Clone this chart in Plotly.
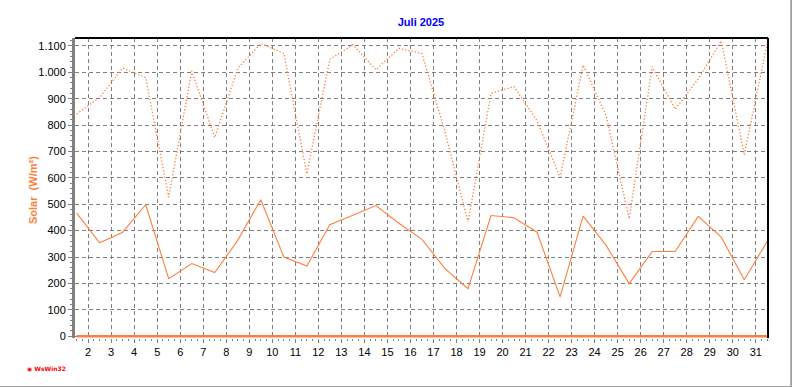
import plotly.graph_objects as go

# Data (July 2025 daily solar radiation, W/m²)
days = list(range(1, 32))
solar_max = [842, 905, 1016, 980, 527, 1005, 753, 1015, 1109, 1072,
             615, 1050, 1104, 1010, 1091, 1071, 775, 432, 920, 946,
             816, 602, 1027, 835, 445, 1021, 860, 975, 1119, 688, 1112]
solar_mean = [466, 354, 394, 498, 218, 275, 241, 363, 517, 300,
              266, 422, 458, 495, 428, 367, 256, 180, 457, 449,
              394, 149, 455, 344, 199, 321, 321, 454, 375, 214, 360]
solar_min = [0] * 31
x_ticks = list(range(2, 32))
y_ticks = list(range(0, 1101, 100))

xpos = [d + 0.5 for d in days]
orange = "#FF7F3F"

fig = go.Figure()
fig.add_trace(go.Scatter(x=xpos, y=solar_min, mode="lines",
                         line=dict(color=orange, width=2.5), hoverinfo="skip"))
fig.add_trace(go.Scatter(x=xpos, y=solar_max, mode="lines",
                         line=dict(color=orange, width=1.3, dash="1.3px,2px")))
fig.add_trace(go.Scatter(x=xpos, y=solar_mean, mode="lines",
                         line=dict(color=orange, width=1.1)))

font_axis = dict(family="Liberation Sans, Arial, sans-serif", size=11, color="black")

fig.update_layout(
    width=792, height=387,
    margin=dict(l=75, r=24, t=38, b=49),
    paper_bgcolor="white", plot_bgcolor="white",
    showlegend=False,
    separators=",.",
    title=dict(text="<b>Juli 2025</b>", x=(421 / 792), xanchor="center",
               y=1 - 22 / 387, yanchor="middle",
               font=dict(family="Liberation Sans, Arial, sans-serif", size=11, color="#0000FF")),
    xaxis=dict(range=[1.43, 31.53], tickmode="array", tickvals=x_ticks,
               ticktext=[str(v) for v in x_ticks],
               ticks="outside", ticklen=4, tickcolor="#808080", tickwidth=1,
               showgrid=True, gridcolor="#808080", griddash="4px,3px", gridwidth=1,
               zeroline=False, showline=False, tickfont=font_axis,
               minor=dict(dtick=0.25, tick0=2, ticks="outside", ticklen=2,
                          tickcolor="#808080", showgrid=False)),
    yaxis=dict(range=[-7, 1130], tickmode="array", tickvals=y_ticks,
               ticks="outside", ticklen=4, tickcolor="#808080", tickwidth=1,
               tickformat=",d",
               showgrid=True, gridcolor="#808080", griddash="4px,3px", gridwidth=1,
               zeroline=False, showline=True, linecolor="#808080", linewidth=3,
               tickfont=font_axis,
               minor=dict(dtick=20, tick0=0, ticks="outside", ticklen=2,
                          tickcolor="#808080", showgrid=False)),
)

# frame lines (top and right black, outer grey border)
fig.add_shape(type="line", xref="paper", yref="paper", x0=0, x1=1, y0=1, y1=1,
              line=dict(color="black", width=2))
fig.add_shape(type="line", xref="paper", yref="paper", x0=1, x1=1, y0=0, y1=1,
              line=dict(color="black", width=2))
fig.add_shape(type="line", xref="paper", yref="paper", x0=1.0335, x1=1.0335, y0=-0.165, y1=1.13,
              line=dict(color="#A0A0A0", width=2))
fig.add_shape(type="line", xref="paper", yref="paper", x0=-0.2, x1=1.0335, y0=-0.163, y1=-0.163,
              line=dict(color="#A0A0A0", width=2))

# y-axis title
fig.add_annotation(text="<b>Solar  (W/m²)</b>", xref="paper", yref="paper",
                   x=(33 - 75) / 693, y=(338 - 190) / 300, textangle=-90,
                   showarrow=False, xanchor="center", yanchor="middle",
                   font=dict(family="Liberation Sans, Arial, sans-serif", size=11, color=orange))

# logo
fig.add_annotation(text="<b>◉ WsWin32</b>", xref="paper", yref="paper",
                   x=(25 - 75) / 693, y=(338 - 368) / 300, showarrow=False,
                   xanchor="left", yanchor="middle",
                   font=dict(family="DejaVu Sans, sans-serif", size=6, color="#FF0000"))

fig.write_html("out.html")
